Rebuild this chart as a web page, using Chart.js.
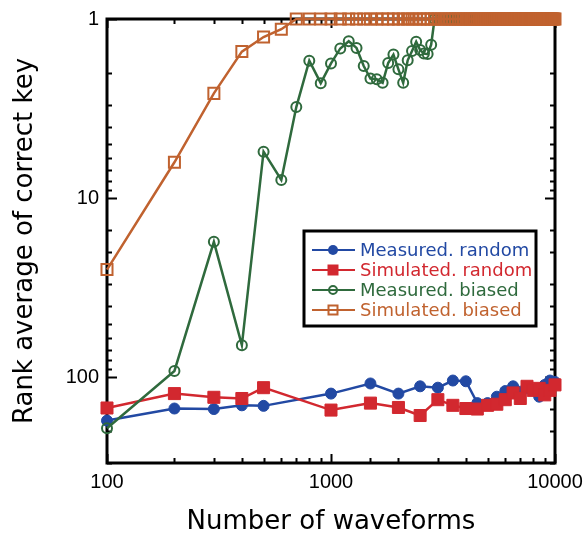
<!DOCTYPE html>
<html>
<head>
<meta charset="utf-8">
<script src="https://cdn.jsdelivr.net/npm/chart.js@4.4.0/dist/chart.umd.min.js"></script>
<style>
    html, body { margin: 0; padding: 0; background: #fff; }
</style>
</head>
<body>
<canvas id="rankChart" width="587" height="533"></canvas>
<script>
// random-key series (measured and simulated share the same x points)
const waveformsRandom = [100, 200, 300, 400, 500, 1000, 1500, 2000, 2500, 3000, 3500, 4000,
    4500, 5000, 5500, 6000, 6500, 7000, 7500, 8000, 8500, 9000, 9500, 10000];
const measuredRandom = [174, 149, 150, 143, 144, 123, 108, 123, 112, 114, 104, 105,
    139, 139, 128, 119, 112, 120, 115, 118, 128, 110, 104, 106];
const simulatedRandom = [148, 123, 129, 131, 114, 152, 139, 147, 163, 133, 143, 149,
    150, 143, 141, 133, 122, 131, 112, 118, 115, 125, 118, 110];

// biased-key series, one point every 100 waveforms
const waveformsBiased = [
    100, 200, 300, 400, 500, 600, 700, 800, 900, 1000,
    1100, 1200, 1300, 1400, 1500, 1600, 1700, 1800, 1900, 2000,
    2100, 2200, 2300, 2400, 2500, 2600, 2700, 2800, 2900, 3000,
    3100, 3200, 3300, 3400, 3500, 3600, 3700, 3800, 3900, 4000,
    4100, 4200, 4300, 4400, 4500, 4600, 4700, 4800, 4900, 5000,
    5100, 5200, 5300, 5400, 5500, 5600, 5700, 5800, 5900, 6000,
    6100, 6200, 6300, 6400, 6500, 6600, 6700, 6800, 6900, 7000,
    7100, 7200, 7300, 7400, 7500, 7600, 7700, 7800, 7900, 8000,
    8100, 8200, 8300, 8400, 8500, 8600, 8700, 8800, 8900, 9000,
    9100, 9200, 9300, 9400, 9500, 9600, 9700, 9800, 9900, 10000
];
const measuredBiased = [
    192, 92, 17.5, 66, 5.5, 7.9, 3.1, 1.71, 2.28, 1.77,
    1.46, 1.33, 1.45, 1.83, 2.15, 2.17, 2.27, 1.76, 1.58, 1.91,
    2.27, 1.70, 1.51, 1.34, 1.49, 1.56, 1.57, 1.39, 1, 1,
    1, 1, 1, 1, 1, 1, 1, 1, 1, 1,
    1, 1, 1, 1, 1, 1, 1, 1, 1, 1,
    1, 1, 1, 1, 1, 1, 1, 1, 1, 1,
    1, 1, 1, 1, 1, 1, 1, 1, 1, 1,
    1, 1, 1, 1, 1, 1, 1, 1, 1, 1,
    1, 1, 1, 1, 1, 1, 1, 1, 1, 1,
    1, 1, 1, 1, 1, 1, 1, 1, 1, 1
];
const simulatedBiased = [
    25, 6.3, 2.6, 1.52, 1.26, 1.14, 1, 1, 1, 1,
    1, 1, 1, 1, 1, 1, 1, 1, 1, 1,
    1, 1, 1, 1, 1, 1, 1, 1, 1, 1,
    1, 1, 1, 1, 1, 1, 1, 1, 1, 1,
    1, 1, 1, 1, 1, 1, 1, 1, 1, 1,
    1, 1, 1, 1, 1, 1, 1, 1, 1, 1,
    1, 1, 1, 1, 1, 1, 1, 1, 1, 1,
    1, 1, 1, 1, 1, 1, 1, 1, 1, 1,
    1, 1, 1, 1, 1, 1, 1, 1, 1, 1,
    1, 1, 1, 1, 1, 1, 1, 1, 1, 1
];

const seriesNames = ['Measured. random', 'Simulated. random', 'Measured. biased', 'Simulated. biased'];
const xTickLabels = [100, 1000, 10000];
const yTickLabels = [1, 10, 100];

const seriesColors = ['#2249a3', '#d2282f', '#2f6a3d', '#c0622f'];
const titleFont = { family: 'DejaVu Sans', size: 26, lineHeight: 1 };
const tickFont = { family: 'Liberation Sans', size: 20 };

function toPoints(xs, ys) {
    return xs.map((x, i) => ({ x: x, y: ys[i] }));
}

// marker look per series (used by the datasets and by the legend box)
const markers = [
    { style: 'circle', radius: 5.5, fill: true },
    { style: 'rect', radius: 8.5, fill: true },
    { style: 'circle', radius: 5, fill: false },
    { style: 'rect', radius: 7.8, fill: false }
];

function makeDataset(i, xs, ys) {
    const m = markers[i];
    return {
        label: seriesNames[i],
        data: toPoints(xs, ys),
        borderColor: seriesColors[i],
        backgroundColor: m.fill ? seriesColors[i] : 'rgba(0,0,0,0)',
        borderWidth: 2.5,
        pointStyle: m.style,
        pointRadius: m.radius,
        pointBorderWidth: m.fill ? 1 : 2,
        pointBackgroundColor: m.fill ? seriesColors[i] : 'rgba(0,0,0,0)',
        pointBorderColor: seriesColors[i],
        tension: 0,
        clip: false,
        order: 4 - i
    };
}

// frame with inward ticks on all four sides
const frameTicks = {
    id: 'frameTicks',
    beforeDatasetsDraw(chart) {
        const { ctx, chartArea: a, scales } = chart;
        ctx.save();
        ctx.strokeStyle = '#000';
        ctx.lineWidth = 2;
        const isMajor = v => Math.abs(Math.log10(v) - Math.round(Math.log10(v))) < 1e-9;
        scales.x.ticks.forEach(t => {
            const px = Math.round(scales.x.getPixelForValue(t.value)) + 0.5;
            const len = isMajor(t.value) ? 9 : 5;
            ctx.beginPath();
            ctx.moveTo(px, a.bottom); ctx.lineTo(px, a.bottom - len);
            ctx.moveTo(px, a.top); ctx.lineTo(px, a.top + len);
            ctx.stroke();
        });
        scales.y.ticks.forEach(t => {
            const py = Math.round(scales.y.getPixelForValue(t.value)) + 0.5;
            const len = isMajor(t.value) ? 10 : 5;
            ctx.beginPath();
            ctx.moveTo(a.left, py); ctx.lineTo(a.left + len, py);
            ctx.moveTo(a.right, py); ctx.lineTo(a.right - len, py);
            ctx.stroke();
        });
        ctx.lineWidth = 3;
        ctx.strokeRect(a.left, a.top, a.right - a.left, a.bottom - a.top);
        ctx.restore();
    }
};

function drawMarker(ctx, m, color, x, y, r) {
    ctx.beginPath();
    if (m.style === 'circle') {
        ctx.arc(x, y, r, 0, Math.PI * 2);
    } else {
        ctx.rect(x - r, y - r, 2 * r, 2 * r);
    }
    if (m.fill) {
        ctx.fillStyle = color;
        ctx.fill();
    } else {
        ctx.lineWidth = 2;
        ctx.strokeStyle = color;
        ctx.stroke();
    }
}

// boxed legend inside the plot area
const boxLegend = {
    id: 'boxLegend',
    afterDatasetsDraw(chart) {
        const { ctx } = chart;
        const left = 304, top = 231, width = 232, height = 95;
        ctx.save();
        ctx.fillStyle = '#fff';
        ctx.fillRect(left, top, width, height);
        ctx.lineWidth = 3;
        ctx.strokeStyle = '#000';
        ctx.strokeRect(left, top, width, height);
        const sizes = [5, 5.5, 4, 4.5];
        chart.data.datasets.forEach((ds, i) => {
            const y = 250 + i * 20;
            ctx.strokeStyle = seriesColors[i];
            ctx.lineWidth = 2;
            ctx.beginPath();
            ctx.moveTo(312, y); ctx.lineTo(355, y);
            ctx.stroke();
            drawMarker(ctx, markers[i], seriesColors[i], 333, y, sizes[i]);
            ctx.fillStyle = seriesColors[i];
            ctx.font = '18px "DejaVu Sans"';
            ctx.textAlign = 'left';
            ctx.textBaseline = 'middle';
            ctx.fillText(ds.label, 360, y + 1);
        });
        ctx.restore();
    }
};

const ctx = document.getElementById('rankChart').getContext('2d');
const rankChart = new Chart(ctx, {
    type: 'line',
    data: {
        datasets: [
            makeDataset(0, waveformsRandom, measuredRandom),
            makeDataset(1, waveformsRandom, simulatedRandom),
            makeDataset(2, waveformsBiased, measuredBiased),
            makeDataset(3, waveformsBiased, simulatedBiased)
        ]
    },
    options: {
        responsive: false,
        animation: false,
        devicePixelRatio: 1,
        layout: { padding: { top: 19, right: 32, left: 0, bottom: 0 } },
        plugins: {
            legend: { display: false },
            tooltip: { enabled: false }
        },
        scales: {
            x: {
                type: 'logarithmic',
                min: 100,
                max: 10000,
                grid: { display: false, drawTicks: false },
                border: { display: false },
                ticks: {
                    autoSkip: false,
                    maxRotation: 0,
                    padding: 7,
                    color: '#000',
                    font: tickFont,
                    callback: v => xTickLabels.includes(v) ? String(v) : ''
                },
                title: {
                    display: true,
                    text: 'Number of waveforms',
                    color: '#000',
                    font: titleFont,
                    padding: { top: 0, bottom: -2 }
                },
                afterFit: scale => {
                    scale.height = 70;
                    scale.paddingLeft = 0;
                    scale.paddingRight = 0;
                }
            },
            y: {
                type: 'logarithmic',
                min: 1,
                max: 300,
                reverse: true,
                grid: { display: false, drawTicks: false },
                border: { display: false },
                ticks: {
                    autoSkip: false,
                    padding: 8,
                    color: '#000',
                    font: tickFont,
                    callback: v => yTickLabels.includes(v) ? String(v) : ''
                },
                title: {
                    display: true,
                    text: 'Rank average of correct key',
                    color: '#000',
                    font: titleFont,
                    padding: { top: 12, bottom: 0 }
                },
                afterFit: scale => {
                    scale.width = 107;
                    scale.paddingTop = 0;
                    scale.paddingBottom = 0;
                }
            }
        }
    },
    plugins: [frameTicks, boxLegend]
});
</script>
</body>
</html>
